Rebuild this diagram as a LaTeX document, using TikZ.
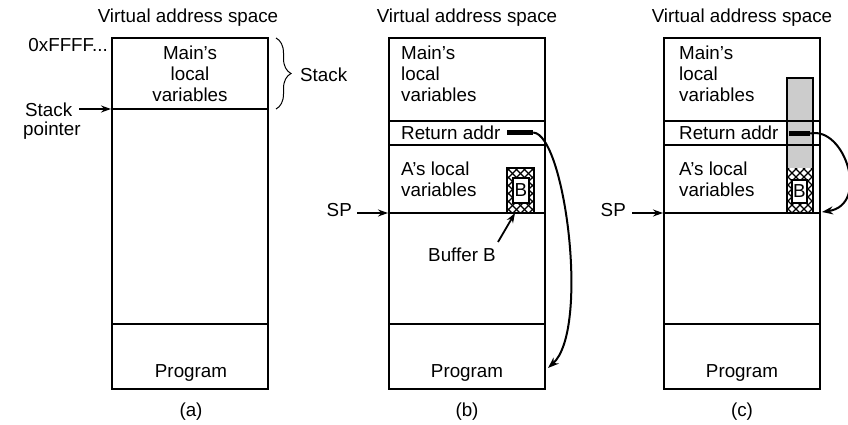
\documentclass[tikz,border=0pt]{standalone}
\usepackage{fontspec}
\setmainfont{Liberation Sans}
\usetikzlibrary{arrows.meta,decorations.pathreplacing}
\begin{document}
\begin{tikzpicture}[x=1pt,y=-1pt,
  font=\fontsize{18.8}{21}\selectfont,
  box/.style={line width=2pt},
  sep/.style={line width=1.8pt},
  txt/.style={inner sep=0pt,align=left},
  ctxt/.style={inner sep=0pt,align=center},
  ptr/.style={line width=1.8pt,-{Stealth[length=10pt,width=7pt]}},
  curv/.style={line width=2pt,-{Stealth[length=11pt,width=8pt]}},
  hline/.style={line width=1.1pt},
  bar/.style={fill=black,draw=none,minimum width=#1,minimum height=5pt,inner sep=0pt},
  bufin/.style={fill=white,draw=black,line width=1.5pt,inner sep=0pt},
  brc/.style={line width=1pt,decorate,decoration={brace,amplitude=15pt}}]
\useasboundingbox (0,0) rectangle (848,425);

% ---------- panel (a)
\node[ctxt] (atitle) at (188,18) {Virtual address space};
\draw[box] (112,38) rectangle (268,389);
\draw[sep] (112,109) -- (268,109);
\draw[sep] (112,324) -- (268,324);
\node[ctxt] (amain) at (190,74) {Main’s\\local\\variables};
\node[ctxt] (aprog) at (191,373) {Program};
\node[ctxt] (acap) at (191,412) {(a)};
\node[txt,anchor=east] (affff) at (108,45) {0xFFFF...};
\node[txt,anchor=west] (astack) at (25,110) {Stack};
\node[txt,anchor=west] (apointer) at (23,131) {pointer};
\coordinate (asp0) at (79,109);
\coordinate (asp1) at (111,109);
\draw[ptr] (asp0) -- (asp1);
\draw[brc] (276,38) -- (276,109) coordinate[pos=0.5] (abrmid);
\node[txt,anchor=west] (astk) at (300,75) {Stack};

% ---------- panel (b)
\node[ctxt] (btitle) at (467,18) {Virtual address space};
\draw[box] (389,38) rectangle (545,389);
\draw[sep] (389,121) -- (545,121);
\draw[sep] (389,145) -- (545,145);
\draw[sep] (389,213) -- (545,213);
\draw[sep] (389,324) -- (545,324);
\node[txt,anchor=west] (bmain) at (401,74) {Main’s\\local\\variables};
\node[txt,anchor=west] (bret) at (401,133) {Return addr};
\node[txt,anchor=west] (balocal) at (401,179) {A’s local\\variables};
\node[ctxt] (bprog) at (467,373) {Program};
\node[ctxt] (bcap) at (467,412) {(b)};
\node[txt,anchor=east] (bsp) at (352,210) {SP};
\coordinate (bsp0) at (357,213);
\coordinate (bsp1) at (388,213);
\draw[ptr] (bsp0) -- (bsp1);
% buffer B (cross-hatched)
\begin{scope}
  \clip (507,168) rectangle (534,213);
  \foreach \k in {-56,-48,...,40} {
    \draw[hline] (507+\k,168) -- ++(60,60);
    \draw[hline] (534-\k,168) -- ++(-60,60);
  }
\end{scope}
\draw[line width=1.8pt] (507,168) rectangle (534,213);
\node[bufin,minimum width=16pt,minimum height=25pt] (bbuf) at (521,190.5) {B};
\node[ctxt] (bbuftxt) at (462,255) {Buffer B};
\coordinate (bbt0) at (498,242);
\coordinate (bbt1) at (515,213);
\draw[ptr] (bbt0) -- (bbt1);
% return address bar and arrow
\node[bar=26pt] (bbar) at (520,132.5) {};
\coordinate (bprogend) at (548,368);
\draw[curv] (bbar.east) .. controls (565,134) and (590,330) .. (bprogend);

% ---------- panel (c)
\node[ctxt] (ctitle) at (742,18) {Virtual address space};
\fill[gray!40] (787,78) rectangle (813,168);
\begin{scope}
  \clip (787,168) rectangle (813,213);
  \foreach \k in {-56,-48,...,40} {
    \draw[hline] (787+\k,168) -- ++(60,60);
    \draw[hline] (813-\k,168) -- ++(-60,60);
  }
\end{scope}
\draw[line width=1.8pt] (787,78) rectangle (813,213);
\draw[box] (664,38) rectangle (820,389);
\draw[sep] (664,121) -- (820,121);
\draw[sep] (664,145) -- (820,145);
\draw[sep] (664,213) -- (820,213);
\draw[sep] (664,324) -- (820,324);
\node[bufin,minimum width=15pt,minimum height=23pt] (cbuf) at (799.5,191.5) {B};
\node[txt,anchor=west] (cmain) at (679,74) {Main’s\\local\\variables};
\node[txt,anchor=west] (cret) at (679,133) {Return addr};
\node[txt,anchor=west] (calocal) at (679,179) {A’s local\\variables};
\node[ctxt] (cprog) at (742,373) {Program};
\node[ctxt] (ccap) at (742,412) {(c)};
\node[txt,anchor=east] (csp) at (626,210) {SP};
\coordinate (csp0) at (632,213);
\coordinate (csp1) at (663,213);
\draw[ptr] (csp0) -- (csp1);
\node[bar=21pt] (cbar) at (799.5,133.5) {};
\coordinate (cbufend) at (822,212);
\draw[curv] (cbar.east) .. controls (845,126) and (870,205) .. (cbufend);
\end{tikzpicture}
\end{document}
